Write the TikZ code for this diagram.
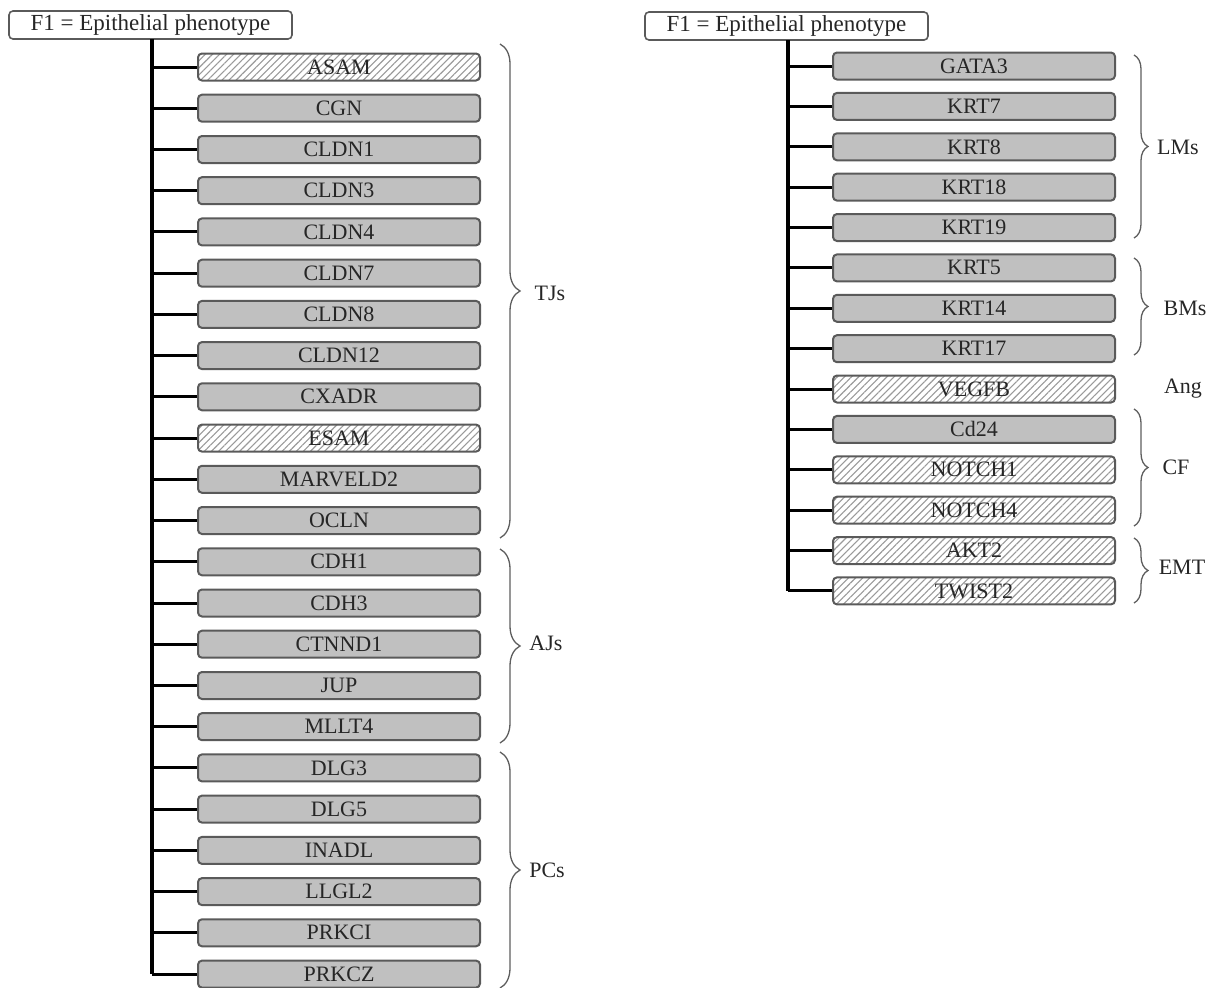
\documentclass[tikz,border=0pt]{standalone}
\usepackage{fontspec}
\setmainfont{Liberation Serif}
\usetikzlibrary{patterns.meta,decorations.pathreplacing}
\definecolor{boxgray}{HTML}{C0C0C0}
\definecolor{edgegray}{HTML}{5A5A5A}
\definecolor{bracegray}{HTML}{5E5E5E}
\definecolor{hatchgray}{HTML}{9A9A9A}
\begin{document}
\begin{tikzpicture}[x=1pt,y=-1pt,
  gene/.style={draw=edgegray, line width=2pt, rounded corners=4pt,
    minimum width=282pt, minimum height=27pt, inner sep=0pt,
    font=\fontsize{22}{24}\selectfont, text=black!85},
  sgene/.style={gene, fill=boxgray},
  hgene/.style={gene, preaction={fill=white},
    pattern={Lines[angle=45,distance=5pt,line width=1.1pt]}, pattern color=hatchgray},
  header/.style={draw=edgegray, line width=1.6pt, rounded corners=4pt, fill=white,
    minimum width=283pt, minimum height=28pt, inner sep=0pt,
    font=\fontsize{23}{25}\selectfont, text=black!85},
  trunk/.style={line width=4pt, black},
  branch/.style={line width=3pt, black},
  grp/.style={draw=bracegray, line width=1.3pt, decorate},
  glabel/.style={font=\fontsize{22}{24}\selectfont, text=black!85, inner sep=0pt}
]
\useasboundingbox (0,0) rectangle (1216,988);

% ---------------- left panel ----------------
\node[header] (HL) at (150.5,25) {F1 = Epithelial phenotype};
\node[hgene] (L1)  at (339,67.0)  {ASAM};
\node[sgene] (L2)  at (339,108.2) {CGN};
\node[sgene] (L3)  at (339,149.5) {CLDN1};
\node[sgene] (L4)  at (339,190.7) {CLDN3};
\node[sgene] (L5)  at (339,231.9) {CLDN4};
\node[sgene] (L6)  at (339,273.2) {CLDN7};
\node[sgene] (L7)  at (339,314.4) {CLDN8};
\node[sgene] (L8)  at (339,355.6) {CLDN12};
\node[sgene] (L9)  at (339,396.8) {CXADR};
\node[hgene] (L10) at (339,438.1) {ESAM};
\node[sgene] (L11) at (339,479.3) {MARVELD2};
\node[sgene] (L12) at (339,520.5) {OCLN};
\node[sgene] (L13) at (339,561.8) {CDH1};
\node[sgene] (L14) at (339,603.0) {CDH3};
\node[sgene] (L15) at (339,644.2) {CTNND1};
\node[sgene] (L16) at (339,685.5) {JUP};
\node[sgene] (L17) at (339,726.7) {MLLT4};
\node[sgene] (L18) at (339,767.9) {DLG3};
\node[sgene] (L19) at (339,809.1) {DLG5};
\node[sgene] (L20) at (339,850.4) {INADL};
\node[sgene] (L21) at (339,891.6) {LLGL2};
\node[sgene] (L22) at (339,932.8) {PRKCI};
\node[sgene] (L23) at (339,974.1) {PRKCZ};

\coordinate (LT) at (152,39);
\coordinate (LB) at (152,974.1);
\draw[trunk] (LT) -- (LB);
\foreach \i in {1,...,23} {
  \coordinate (LJ\i) at (LT |- L\i.west);
  \draw[branch] (LJ\i) -- (L\i.west);
}

\coordinate (bTJa) at (500,44);  \coordinate (bTJb) at (500,538);
\coordinate (bAJa) at (500,549); \coordinate (bAJb) at (500,743);
\coordinate (bPCa) at (500,752); \coordinate (bPCb) at (500,988);
\draw[grp, decoration={brace, amplitude=20pt}] (bTJa) -- (bTJb);
\draw[grp, decoration={brace, amplitude=20pt}] (bAJa) -- (bAJb);
\draw[grp, decoration={brace, amplitude=20pt}] (bPCa) -- (bPCb);
\node[glabel] (TJs) at (550,293) {TJs};
\node[glabel] (AJs) at (546,643) {AJs};
\node[glabel] (PCs) at (547,870) {PCs};

% ---------------- right panel ----------------
\node[header] (HR) at (786.5,26) {F1 = Epithelial phenotype};
\node[sgene] (R1)  at (974,66.0)  {GATA3};
\node[sgene] (R2)  at (974,106.4) {KRT7};
\node[sgene] (R3)  at (974,146.8) {KRT8};
\node[sgene] (R4)  at (974,187.1) {KRT18};
\node[sgene] (R5)  at (974,227.5) {KRT19};
\node[sgene] (R6)  at (974,267.9) {KRT5};
\node[sgene] (R7)  at (974,308.3) {KRT14};
\node[sgene] (R8)  at (974,348.7) {KRT17};
\node[hgene] (R9)  at (974,389.0) {VEGFB};
\node[sgene] (R10) at (974,429.4) {Cd24};
\node[hgene] (R11) at (974,469.8) {NOTCH1};
\node[hgene] (R12) at (974,510.2) {NOTCH4};
\node[hgene] (R13) at (974,550.6) {AKT2};
\node[hgene] (R14) at (974,590.9) {TWIST2};

\coordinate (RT) at (788,40);
\coordinate (RB) at (788,590.9);
\draw[trunk] (RT) -- (RB);
\foreach \i in {1,...,14} {
  \coordinate (RJ\i) at (RT |- R\i.west);
  \draw[branch] (RJ\i) -- (R\i.west);
}

\coordinate (bLMa) at (1134,55);  \coordinate (bLMb) at (1134,238);
\coordinate (bBMa) at (1134,258); \coordinate (bBMb) at (1134,355);
\coordinate (bCFa) at (1134,409); \coordinate (bCFb) at (1134,526);
\coordinate (bEMa) at (1134,538); \coordinate (bEMb) at (1134,603);
\draw[grp, decoration={brace, amplitude=14pt}] (bLMa) -- (bLMb);
\draw[grp, decoration={brace, amplitude=14pt}] (bBMa) -- (bBMb);
\draw[grp, decoration={brace, amplitude=14pt}] (bCFa) -- (bCFb);
\draw[grp, decoration={brace, amplitude=14pt}] (bEMa) -- (bEMb);
\node[glabel] (LMs) at (1178,147) {LMs};
\node[glabel] (BMs) at (1185,308) {BMs};
\node[glabel] (Ang) at (1183,389) {Ang};
\node[glabel] (CF)  at (1176,467) {CF};
\node[glabel] (EMT) at (1182,567) {EMT};
\end{tikzpicture}
\end{document}
